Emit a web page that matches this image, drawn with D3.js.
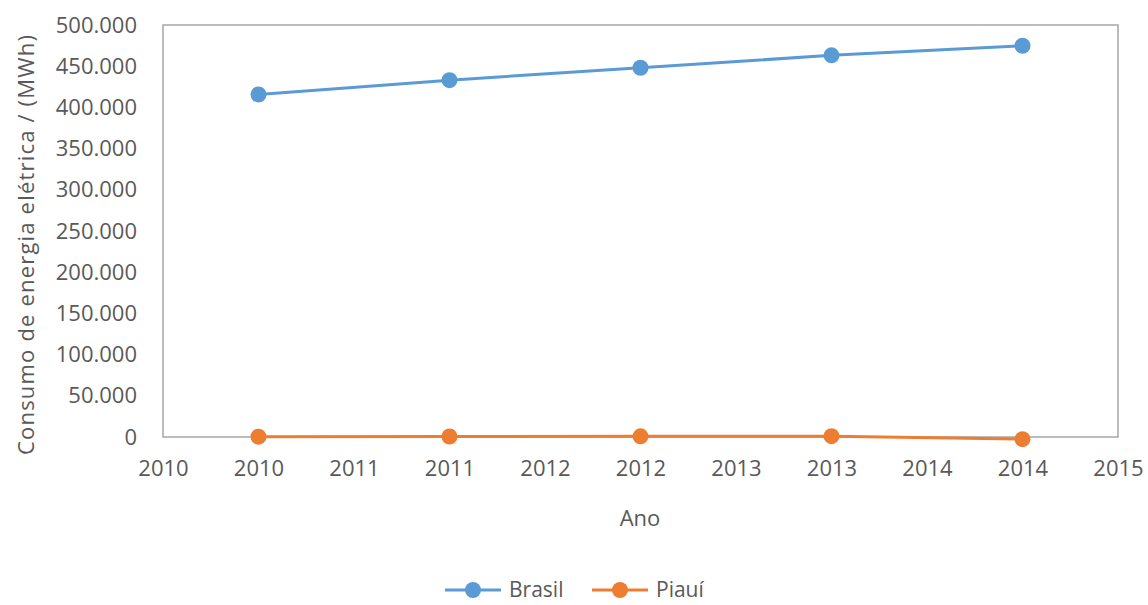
<!DOCTYPE html>
<html>
<head>
<meta charset="utf-8">
<script src="https://cdn.jsdelivr.net/npm/d3@7"></script>
<style>
  body { margin: 0; background: #fff; }
  text { font-family: "Open Sans", sans-serif; fill: #595959; }
</style>
</head>
<body>
<div id="chart"></div>
<script>
// chart values
const years = [2010, 2011, 2012, 2013, 2014];
const brasil = [415683, 433034, 448126, 463142, 474823];
const piaui = [400, 600, 800, 1000, -2600];
const xTicks = [2009.5, 2010, 2010.5, 2011, 2011.5, 2012, 2012.5, 2013, 2013.5, 2014, 2014.5];
const xTickLabels = ["2010", "2010", "2011", "2011", "2012", "2012", "2013", "2013", "2014", "2014", "2015"];
const yTicks = [0, 50000, 100000, 150000, 200000, 250000, 300000, 350000, 400000, 450000, 500000];
const seriesNames = ["Brasil", "Piauí"];
const colors = ["#5B9BD5", "#ED7D31"];

const width = 1148, height = 605;
const margin = {top: 25, right: 30, bottom: 168, left: 163};
const innerW = width - margin.left - margin.right;
const innerH = height - margin.top - margin.bottom;

const svg = d3.select("#chart").append("svg")
    .attr("width", width)
    .attr("height", height);

const g = svg.append("g")
    .attr("transform", "translate(" + margin.left + "," + margin.top + ")");

const x = d3.scaleLinear().domain([2009.5, 2014.5]).range([0, innerW]);
const y = d3.scaleLinear().domain([0, 500000]).range([innerH, 0]);

const fmt = d3.formatLocale({decimal: ",", thousands: ".", grouping: [3], currency: ["R$", ""]}).format(",d");

// frame
g.append("rect")
    .attr("width", innerW)
    .attr("height", innerH)
    .attr("fill", "none")
    .attr("stroke", "#a6a6a6")
    .attr("stroke-width", 1.5);

// y axis labels
const yAxis = g.append("g")
    .call(d3.axisLeft(y).tickValues(yTicks).tickFormat(fmt).tickSize(0).tickPadding(26));
yAxis.select(".domain").remove();
yAxis.selectAll("text").style("font-size", "22px").attr("fill", "#595959");

// x axis labels
const xAxis = g.append("g")
    .attr("transform", "translate(0," + innerH + ")")
    .call(d3.axisBottom(x).tickValues(xTicks).tickFormat((d, i) => xTickLabels[i]).tickSize(0).tickPadding(23));
xAxis.select(".domain").remove();
xAxis.selectAll("text").style("font-size", "22px").attr("fill", "#595959");

// axis titles
svg.append("text")
    .attr("x", 640)
    .attr("y", 526)
    .attr("text-anchor", "middle")
    .style("font-size", "22px")
    .text("Ano");

svg.append("text")
    .attr("transform", "translate(34,245) rotate(-90)")
    .attr("text-anchor", "middle")
    .attr("textLength", 420)
    .attr("lengthAdjust", "spacing")
    .style("font-size", "22px")
    .text("Consumo de energia elétrica / (MWh)");

// series
const series = [brasil, piaui];
const line = d3.line().x((d, i) => x(years[i])).y(d => y(d));

series.forEach((vals, k) => {
    g.append("path")
        .datum(vals)
        .attr("d", line)
        .attr("fill", "none")
        .attr("stroke", colors[k])
        .attr("stroke-width", 3);
    g.selectAll(".pt" + k)
        .data(vals)
        .enter()
        .append("circle")
        .attr("cx", (d, i) => x(years[i]))
        .attr("cy", d => y(d))
        .attr("r", 8)
        .attr("fill", colors[k]);
});

// legend
const legendX = [445, 592];
seriesNames.forEach((name, k) => {
    const lg = svg.append("g").attr("transform", "translate(" + legendX[k] + ",590)");
    lg.append("line")
        .attr("x1", 0).attr("x2", 56)
        .attr("stroke", colors[k])
        .attr("stroke-width", 3);
    lg.append("circle")
        .attr("cx", 28)
        .attr("r", 8)
        .attr("fill", colors[k]);
    lg.append("text")
        .attr("x", 64)
        .attr("dy", "0.35em")
        .style("font-size", "21px")
        .text(name);
});
</script>
</body>
</html>
